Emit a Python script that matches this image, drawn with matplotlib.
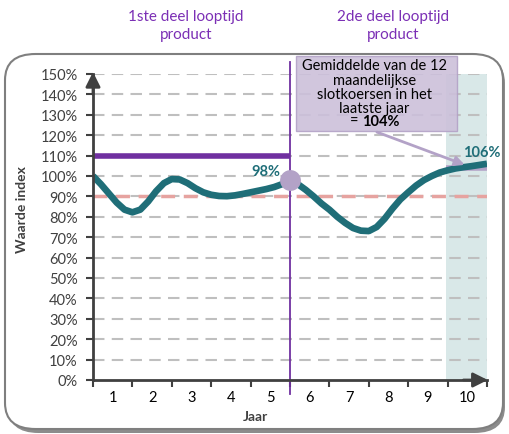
import matplotlib
matplotlib.use("Agg")
import matplotlib.pyplot as plt
from matplotlib.patches import FancyBboxPatch, Rectangle

# ---- data ----
years = [1, 2, 3, 4, 5, 6, 7, 8, 9, 10]
y_ticks = [0, 10, 20, 30, 40, 50, 60, 70, 80, 90, 100, 110, 120, 130, 140, 150]
curve_x = [0, 0.2, 0.4, 0.6, 0.8, 1.0, 1.2, 1.4, 1.6, 1.8, 2.0, 2.2, 2.4, 2.6,
           2.8, 3.0, 3.2, 3.4, 3.6, 3.8, 4.0, 4.2, 4.4, 4.6, 4.8, 5.0, 5.2,
           5.4, 5.6, 5.8, 6.0, 6.2, 6.4, 6.6, 6.8, 7.0, 7.2, 7.4, 7.6, 7.8,
           8.0, 8.2, 8.4, 8.6, 8.8, 9.0, 9.2, 9.4, 9.6, 9.8, 10.0]
curve_y = [100, 96, 91.5, 87, 83.5, 82.2, 83.5, 87.5, 92.5, 96.5, 98.5, 98.3,
           96.5, 94, 92, 90.8, 90.2, 90.1, 90.5, 91.2, 92, 92.8, 93.6, 94.6,
           96, 97.5, 96, 93.2, 90, 86.5, 83.5, 80, 77, 74.5, 73.2, 73, 75,
           79, 84, 88.5, 92, 95.3, 98, 100, 101.7, 102.8, 103.7, 104.3,
           104.8, 105.4, 106]
guarantee_level = 110
barrier_level = 90
avg_last_year = 104
mid_year = 5
mid_value = 98
end_value = 106

TEAL = "#1f6e78"
PURPLE = "#7030a0"
LPURPLE = "#b3a2c7"
GRID = "#bfbfbf"
AX = "#404040"
FONT = ["Lato", "DejaVu Sans"]

plt.rcParams["font.family"] = FONT

W, H = 509, 435
fig = plt.figure(figsize=(W / 100, H / 100), dpi=100)
fig.patch.set_facecolor("white")

# rounded frame with shadow
shadow = FancyBboxPatch((8 / W, 1 - 434 / H), 497 / W, 376 / H,
                        boxstyle="round,pad=0,rounding_size=0.06",
                        transform=fig.transFigure, facecolor="#8c8c8c",
                        edgecolor="none", zorder=0)
frame = FancyBboxPatch((5 / W, 1 - 430 / H), 498 / W, 375 / H,
                       boxstyle="round,pad=0,rounding_size=0.06",
                       transform=fig.transFigure, facecolor="white",
                       edgecolor="#7f7f7f", linewidth=1.5, zorder=1)
fig.patches.extend([shadow, frame])

ax = fig.add_axes([93 / W, 1 - 381 / H, (487 - 93) / W, (381 - 75) / H])
ax.set_facecolor("none")
ax.set_zorder(2)
ax.set_xlim(0, 10)
ax.set_ylim(0, 150)

# shaded last year
ax.axvspan(8.95, 10, color="#d9e8e8", zorder=0, lw=0)

# grid
for v in y_ticks[1:]:
    ax.plot([0, 10], [v, v], color=GRID, lw=1.5, dashes=(5.5, 3.5), zorder=1)

# barrier
ax.plot([0, 10], [barrier_level] * 2, color="#e6a3a0", lw=2.5, dashes=(4, 2.5), zorder=2)
# guarantee line first part
ax.plot([0, mid_year], [guarantee_level] * 2, color=PURPLE, lw=4, zorder=3,
        solid_capstyle="butt")
# average last year segment
ax.plot([8.95, 10], [avg_last_year] * 2, color=LPURPLE, lw=4, zorder=3,
        solid_capstyle="butt")

# curve
ax.plot(curve_x, curve_y, color=TEAL, lw=4.8, zorder=5, solid_capstyle="butt",
        solid_joinstyle="round")

# vertical separator
ax.plot([mid_year, mid_year], [-7, 156], color=PURPLE, lw=1.3, zorder=4, clip_on=False)

# mid circle
ax.plot([mid_year], [mid_value], marker="o", ms=15, color=LPURPLE, mec="none",
        zorder=6, clip_on=False)

ax.text(4.4, 102.5, f"{mid_value}%", color=TEAL, fontsize=10.5, fontweight="bold",
        ha="center", va="center", zorder=7)
ax.text(9.87, 111.8, f"{end_value}%", color=TEAL, fontsize=10.5, fontweight="bold",
        ha="center", va="center", zorder=7, clip_on=False)

# annotation box
box = Rectangle((5.15, 122), 9.24 - 5.15, 158.8 - 122, facecolor="#ccc0da",
                edgecolor="#b3a2c7", lw=1, alpha=0.9, zorder=8, clip_on=False)
ax.add_patch(box)
lines = ["Gemiddelde van de 12", "maandelijkse", "slotkoersen in het", "laatste jaar"]
ys = [154.5, 147.3, 140.3, 133.5]
for t, yy in zip(lines, ys):
    ax.text(7.14, yy, t, ha="center", va="center", fontsize=10.5, color="black",
            zorder=9, clip_on=False)
ax.text(6.74, 127, "=", ha="right", va="center", fontsize=10.5, color="black",
        zorder=9)
ax.text(6.84, 127, f"{avg_last_year}%", ha="left", va="center", fontsize=10.5,
        fontweight="bold", color="black", zorder=9)
ax.annotate("", xy=(9.5, 105), xytext=(7.14, 122),
            arrowprops=dict(arrowstyle="-|>", color=LPURPLE, lw=2,
                            mutation_scale=14), zorder=8)

# axes spines
for s in ["top", "right"]:
    ax.spines[s].set_visible(False)
for s in ["left", "bottom"]:
    ax.spines[s].set_color(AX)
    ax.spines[s].set_linewidth(2)
    ax.spines[s].set_zorder(6)
ax.annotate("", xy=(0, 151), xytext=(0, 140),
            arrowprops=dict(arrowstyle="-|>", color=AX, lw=2, mutation_scale=22,
                            shrinkA=0, shrinkB=0), annotation_clip=False)
ax.annotate("", xy=(10.02, 0), xytext=(9.4, 0),
            arrowprops=dict(arrowstyle="-|>", color=AX, lw=2, mutation_scale=22,
                            shrinkA=0, shrinkB=0), annotation_clip=False)

ax.set_yticks(y_ticks)
ax.set_yticklabels([f"{v}%" for v in y_ticks])
ax.set_xticks(range(0, 11))
ax.set_xticklabels([])
ax.tick_params(axis="both", colors=AX, labelsize=10.5, width=1.5, length=5,
               labelcolor=AX)
ax.tick_params(axis="y", pad=6)
for yv, lab in zip([y - 0.5 for y in years], years):
    ax.text(yv, -8.2, str(lab), ha="center", va="center", fontsize=10.5, color="black")

fig.text(255 / W, 1 - 417 / H, "Jaar", ha="center", va="center", fontsize=10,
         fontweight="bold", color=AX)
fig.text(22 / W, 1 - 210 / H, "Waarde index", ha="center", va="center", fontsize=10,
         fontweight="bold", color=AX, rotation=90)

fig.text(186 / W, 1 - 26 / H, "1ste deel looptijd\nproduct", ha="center", va="center",
         fontsize=11, color="#7b2fb5", linespacing=1.3)
fig.text(393 / W, 1 - 26 / H, "2de deel looptijd\nproduct", ha="center", va="center",
         fontsize=11, color="#7b2fb5", linespacing=1.3)

fig.savefig("out.png", dpi=100)
